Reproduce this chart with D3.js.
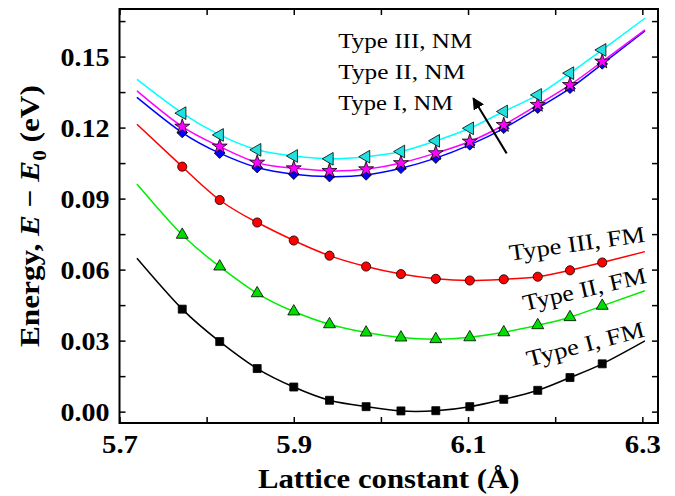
<!DOCTYPE html>
<html lang="en">
<head>
<meta charset="UTF-8">
<title>Lattice energy</title>
<script src="https://d3js.org/d3.v7.min.js"></script>
<style>
  body { margin: 0; background: #fff; }
  svg text { font-family: "Liberation Serif", "Times New Roman", Times, serif; }
</style>
</head>
<body>
<div id="chart"></div>
<script>
// lattice constants (Å) shared by all series
const lattice = [5.772, 5.815, 5.858, 5.900, 5.941, 5.983, 6.023, 6.063, 6.102, 6.141, 6.180, 6.217, 6.254];

// E - E0 (eV)
const typeIFM   = [0.0433, 0.0296, 0.0182, 0.0104, 0.0048, 0.0021, 0.0003, 0.0004, 0.0021, 0.0052, 0.0090, 0.0144, 0.0202];
const typeIIFM  = [0.0747, 0.0613, 0.0500, 0.0423, 0.0369, 0.0334, 0.0313, 0.0306, 0.0314, 0.0335, 0.0365, 0.0399, 0.0447];
const typeIIIFM = [0.1035, 0.0894, 0.0799, 0.0723, 0.0659, 0.0613, 0.0581, 0.0561, 0.0554, 0.0559, 0.0570, 0.0597, 0.0630];
const typeINM   = [0.1179, 0.1092, 0.1031, 0.1003, 0.0993, 0.1000, 0.1028, 0.1071, 0.1127, 0.1197, 0.1282, 0.1366, 0.1469];
const typeIINM  = [0.1204, 0.1120, 0.1052, 0.1028, 0.1017, 0.1024, 0.1050, 0.1092, 0.1141, 0.1211, 0.1296, 0.1380, 0.1479];
const typeIIINM = [0.1261, 0.1169, 0.1106, 0.1080, 0.1068, 0.1077, 0.1099, 0.1144, 0.1197, 0.1268, 0.1338, 0.1430, 0.1528];

// fitted curve end values, at the fit range ends
const fitRange = [5.72, 6.303];
const fitIFM   = [0.0648, 0.0299];
const fitIIFM  = [0.0962, 0.0511];
const fitIIIFM = [0.1214, 0.0676];
const fitINM   = [0.1328, 0.1608];
const fitIINM  = [0.1355, 0.1613];
const fitIIINM = [0.1404, 0.1662];

// axis ticks
const xMajor = [5.7, 5.9, 6.1, 6.3];
const xAll = [5.7, 5.8, 5.9, 6.0, 6.1, 6.2, 6.3];
const yAll = [0, 0.015, 0.03, 0.045, 0.06, 0.075, 0.09, 0.105, 0.12, 0.135, 0.15, 0.165];
const yMajor = [0, 0.03, 0.06, 0.09, 0.12, 0.15];

const W = 675, H = 496;
const margin = {top: 9, right: 17, bottom: 73, left: 119.5};

const svg = d3.select("#chart").append("svg")
  .attr("width", W).attr("height", H);

const x = d3.scaleLinear().domain([5.7, 6.318]).range([margin.left, W - margin.right]);
const y = d3.scaleLinear().domain([-0.0048, 0.1701]).range([H - margin.bottom, margin.top]);

// stretch text horizontally a bit, like the original
function stretch(sel, k) {
  sel.each(function() {
    const len = this.getComputedTextLength();
    d3.select(this).attr("textLength", len * k).attr("lengthAdjust", "spacingAndGlyphs");
  });
}

// axes
const gBottom = svg.append("g").attr("transform", `translate(0,${H - margin.bottom})`)
  .call(d3.axisBottom(x).tickValues(xAll).tickSizeInner(-6).tickSizeOuter(0)
    .tickFormat(d => xMajor.some(v => Math.abs(v - d) < 1e-9) ? d3.format(".1f")(d) : ""));
const gTop = svg.append("g").attr("transform", `translate(0,${margin.top})`)
  .call(d3.axisTop(x).tickValues(xAll).tickSizeInner(-6).tickSizeOuter(0).tickFormat(""));
const gLeft = svg.append("g").attr("transform", `translate(${margin.left},0)`)
  .call(d3.axisLeft(y).tickValues(yAll).tickSizeInner(-6).tickSizeOuter(0)
    .tickFormat(d => yMajor.some(v => Math.abs(v - d) < 1e-9) ? d3.format(".2f")(d) : ""));
const gRight = svg.append("g").attr("transform", `translate(${W - margin.right},0)`)
  .call(d3.axisRight(y).tickValues(yAll).tickSizeInner(-6).tickSizeOuter(0).tickFormat(""));

[gBottom, gTop, gLeft, gRight].forEach(g => {
  g.select(".domain").remove();
  g.selectAll(".tick line").attr("stroke", "#000").attr("stroke-width", 1.5);
});

gBottom.selectAll("text")
  .attr("font-size", 25).attr("font-weight", "bold").attr("fill", "#000")
  .attr("dy", null).attr("y", 30)
  .call(stretch, 1.15);
gLeft.selectAll("text")
  .attr("font-size", 25).attr("font-weight", "bold").attr("fill", "#000")
  .attr("x", -10).attr("dy", "0.34em")
  .call(stretch, 1.12);

svg.append("rect")
  .attr("x", margin.left).attr("y", margin.top)
  .attr("width", W - margin.left - margin.right)
  .attr("height", H - margin.top - margin.bottom)
  .attr("fill", "none").attr("stroke", "#000").attr("stroke-width", 2);

// axis titles
svg.append("text")
  .attr("x", (margin.left + W - margin.right) / 2).attr("y", 488)
  .attr("text-anchor", "middle")
  .attr("font-size", 27).attr("font-weight", "bold")
  .text("Lattice constant (Å)")
  .call(stretch, 1.14);

// y title: measured, then scaled along its length to span the same height as the original
const yt = svg.append("text")
  .attr("font-size", 28).attr("font-weight", "bold");
yt.append("tspan").text("Energy, ");
yt.append("tspan").attr("font-style", "italic").text("E");
yt.append("tspan").text(" \u2212 ");
yt.append("tspan").attr("font-style", "italic").text("E");
yt.append("tspan").attr("font-size", 19).attr("dy", 7).text("0");
yt.append("tspan").attr("dy", -7).text(" (eV)");
const ytLen = yt.node().getComputedTextLength();
yt.attr("transform", `translate(39,347) rotate(-90) scale(${262 / ytLen},1)`);

// series
const series = [
  {vals: typeIFM,   fit: fitIFM,   color: "#000000", fill: "#000000", sym: d3.symbolSquare, size: 64, rot: 0},
  {vals: typeIIFM,  fit: fitIIFM,  color: "#00ee00", fill: "#00dd00", sym: d3.symbolTriangle, size: 62, rot: 0},
  {vals: typeIIIFM, fit: fitIIIFM, color: "#ff0000", fill: "#ff0000", sym: d3.symbolCircle, size: 66, rot: 0},
  {vals: typeINM,   fit: fitINM,   color: "#0000ff", fill: "#0000ff", sym: d3.symbolSquare, size: 56, rot: 45},
  {vals: typeIINM,  fit: fitIINM,  color: "#ff00ff", fill: "#ff00ff", sym: d3.symbolStar, size: 70, rot: 0},
  {vals: typeIIINM, fit: fitIIINM, color: "#00ffff", fill: "#22e0e0", sym: d3.symbolTriangle, size: 70, rot: -90}
];

const line = d3.line().x(d => x(d[0])).y(d => y(d[1])).curve(d3.curveNatural);

series.forEach(s => {
  const pts = [[fitRange[0], s.fit[0]]]
    .concat(lattice.map((a, i) => [a, s.vals[i]]))
    .concat([[fitRange[1], s.fit[1]]]);
  svg.append("path")
    .attr("d", line(pts))
    .attr("fill", "none").attr("stroke", s.color).attr("stroke-width", 1.5);
});

series.forEach(s => {
  svg.append("g").selectAll("path")
    .data(lattice.map((a, i) => [a, s.vals[i]]))
    .join("path")
      .attr("d", d3.symbol().type(s.sym).size(s.size))
      .attr("transform", d => `translate(${x(d[0])},${y(d[1])}) rotate(${s.rot})`)
      .attr("fill", s.fill)
      .attr("stroke", "#000").attr("stroke-width", 0.8);
});

// NM labels
const nmLabels = [["Type III, NM", 0.1536, 134], ["Type II, NM", 0.1405, 127], ["Type I, NM", 0.1274, 115]];
nmLabels.forEach(l => {
  svg.append("text")
    .attr("x", x(5.951)).attr("y", y(l[1]))
    .attr("font-size", 22)
    .attr("textLength", l[2]).attr("lengthAdjust", "spacingAndGlyphs")
    .text(l[0]);
});

// arrow
svg.append("defs").append("marker")
  .attr("id", "head").attr("viewBox", "0 0 10 10")
  .attr("refX", 9).attr("refY", 5)
  .attr("markerWidth", 6).attr("markerHeight", 6)
  .attr("orient", "auto")
  .append("path").attr("d", "M0,0L10,5L0,10z").attr("fill", "#000");
svg.append("line")
  .attr("x1", x(6.1443)).attr("y1", y(0.1091))
  .attr("x2", x(6.106)).attr("y2", y(0.1324))
  .attr("stroke", "#000").attr("stroke-width", 2)
  .attr("marker-end", "url(#head)");

// FM labels, rotated along the curves
const fmLabels = [
  ["Type III, FM", 6.304, 0.0718, -8, 137],
  ["Type II, FM", 6.306, 0.0545, -13, 126],
  ["Type I, FM", 6.304, 0.0318, -14.5, 121]
];
fmLabels.forEach(l => {
  svg.append("text")
    .attr("transform", `translate(${x(l[1])},${y(l[2])}) rotate(${l[3]})`)
    .attr("text-anchor", "end")
    .attr("font-size", 23)
    .attr("textLength", l[4]).attr("lengthAdjust", "spacingAndGlyphs")
    .text(l[0]);
});
</script>
</body>
</html>
